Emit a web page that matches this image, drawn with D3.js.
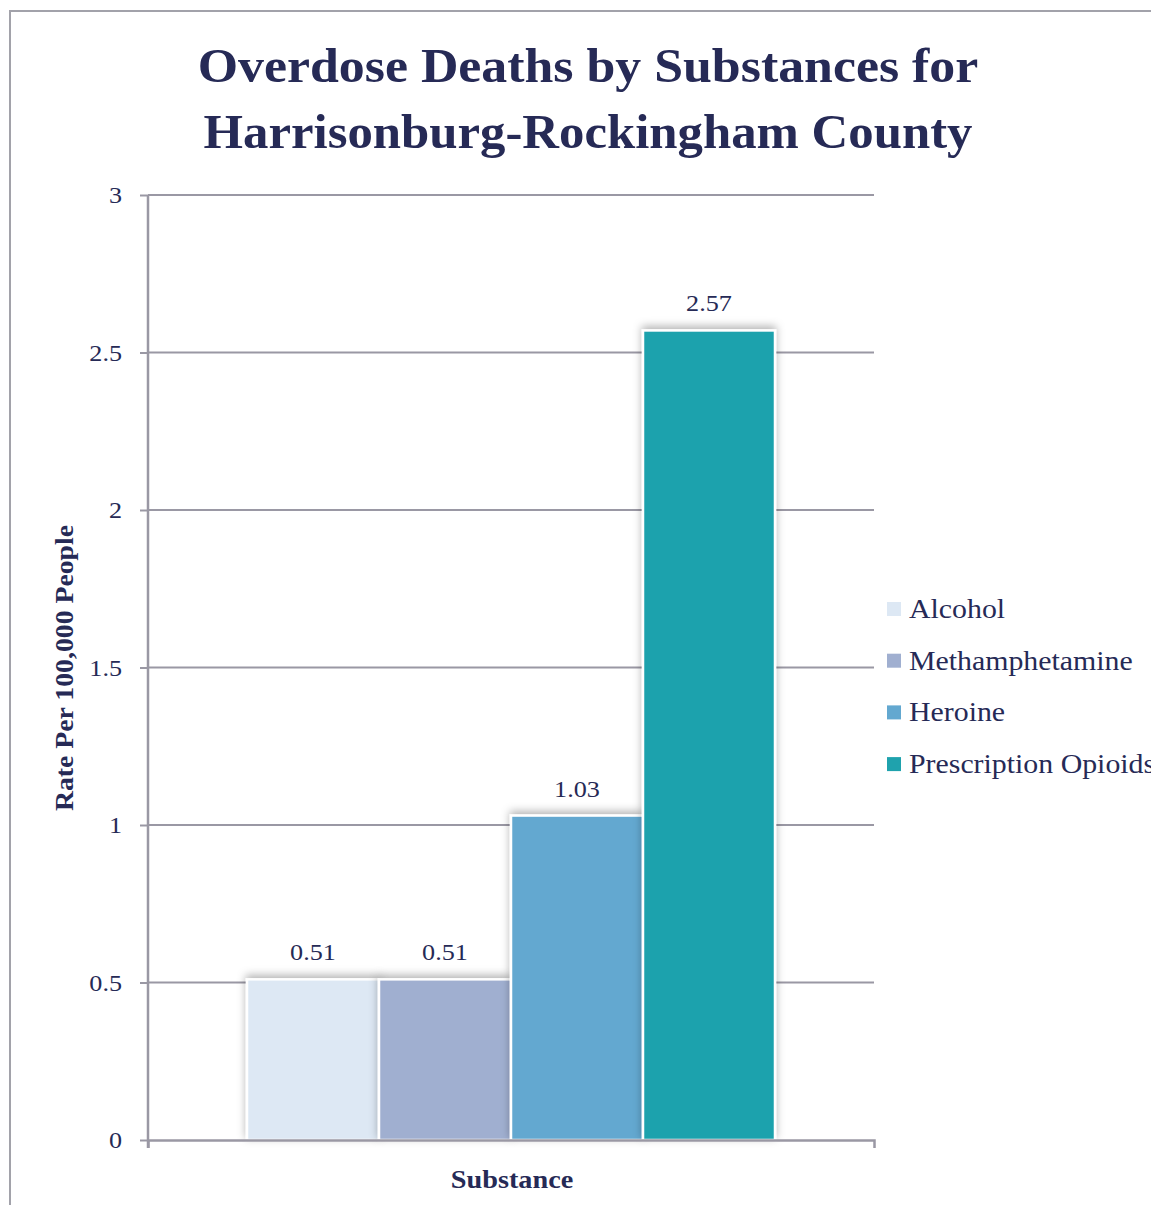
<!DOCTYPE html>
<html>
<head>
<meta charset="utf-8">
<script src="https://cdn.jsdelivr.net/npm/d3@7"></script>
<style>
  html, body { margin: 0; padding: 0; background: #fff; }
  svg { display: block; }
</style>
</head>
<body>
<svg id="chart" width="1151" height="1205"></svg>
<script>
const titleLines = ["Overdose Deaths by Substances for", "Harrisonburg-Rockingham County"];
const categories = ["Substance"];
const seriesNames = ["Alcohol", "Methamphetamine", "Heroine", "Prescription Opioids"];
const seriesValues = [0.51, 0.51, 1.03, 2.57];
const valueLabels = ["0.51", "0.51", "1.03", "2.57"];
const yTicks = [0, 0.5, 1, 1.5, 2, 2.5, 3];
const yTickLabels = ["0", "0.5", "1", "1.5", "2", "2.5", "3"];
const seriesColors = ["#dde8f4", "#a0afd0", "#63a8d0", "#1fa2ad"];
const yAxisTitle = "Rate Per 100,000 People";
const xAxisTitle = "Substance";

const FONT = "'Palatino Linotype', Palatino, 'Book Antiqua', 'Liberation Serif', serif";
const TEXT = "#262a56";
const GRID = "#9a98a4";

// widen a text selection horizontally (fallback font is narrower than the original)
function stretch(sel, k) {
  sel.each(function (d, i) {
    const kk = Array.isArray(k) ? k[i] : k;
    const len = this.getComputedTextLength();
    d3.select(this).attr("textLength", len * kk).attr("lengthAdjust", "spacingAndGlyphs");
  });
}

const svg = d3.select("#chart");
const defs = svg.append("defs");
const f = defs.append("filter").attr("id", "shadow")
  .attr("x", "-20%").attr("y", "-20%").attr("width", "140%").attr("height", "140%");
f.append("feDropShadow").attr("dx", 0).attr("dy", -3).attr("stdDeviation", 4)
  .attr("flood-color", "#000").attr("flood-opacity", 0.3);

// frame
svg.append("path")
  .attr("d", "M10,1205 L10,11 L1151,11")
  .attr("fill", "none").attr("stroke", "#a2a2aa").attr("stroke-width", 2);

const x0 = 148, x1 = 874, yTop = 195, yBot = 1140;
const y = d3.scaleLinear().domain([0, 3]).range([yBot, yTop]);
const xOuter = d3.scaleBand().domain(categories).range([x0, x1]).paddingInner(0).paddingOuter(0.1875);
const xInner = d3.scaleBand().domain(seriesNames).range([0, xOuter.bandwidth()]).padding(0);

// gridlines
svg.append("g").selectAll("line").data(yTicks.filter(d => d > 0)).join("line")
  .attr("x1", x0).attr("x2", x1)
  .attr("y1", d => y(d)).attr("y2", d => y(d))
  .attr("stroke", GRID).attr("stroke-width", 2);

// y axis
const yAxis = d3.axisLeft(y).tickValues(yTicks).tickFormat((d, i) => yTickLabels[i]).tickSize(8).tickPadding(18);
const gy = svg.append("g").attr("transform", `translate(${x0},0)`).call(yAxis);
gy.select(".domain").attr("stroke", GRID).attr("stroke-width", 2.5).attr("d", `M0,${yTop}V${yBot + 8}`);
gy.selectAll(".tick line").attr("stroke", GRID).attr("stroke-width", 2);
gy.selectAll(".tick text").attr("fill", TEXT).style("font-family", FONT).style("font-size", "24px")
  .call(stretch, 1.09);

// bars
const g = svg.append("g").attr("transform", `translate(${xOuter(categories[0])},0)`);
g.selectAll("rect").data(seriesValues).join("rect")
  .attr("x", (d, i) => xInner(seriesNames[i]))
  .attr("y", d => y(d))
  .attr("width", xInner.bandwidth())
  .attr("height", d => y(0) - y(d))
  .attr("fill", (d, i) => seriesColors[i])
  .attr("stroke", "#fff").attr("stroke-width", 2.5)
  .attr("filter", "url(#shadow)");

g.selectAll("text.val").data(seriesValues).join("text").attr("class", "val")
  .attr("x", (d, i) => xInner(seriesNames[i]) + xInner.bandwidth() / 2)
  .attr("y", d => y(d) - 19)
  .attr("text-anchor", "middle")
  .attr("fill", TEXT).style("font-family", FONT).style("font-size", "24px")
  .text((d, i) => valueLabels[i])
  .call(stretch, 1.09);

// x axis
const xAxis = d3.axisBottom(xOuter).tickValues([]).tickSizeOuter(8);
const gx = svg.append("g").attr("transform", `translate(0,${yBot})`).call(xAxis);
gx.select(".domain").attr("stroke", GRID).attr("stroke-width", 2.5);

// title
svg.append("g").selectAll("text").data(titleLines).join("text")
  .attr("x", 588).attr("y", (d, i) => 82 + i * 66)
  .attr("text-anchor", "middle")
  .attr("fill", TEXT).style("font-family", FONT).style("font-size", "48px").style("font-weight", "bold")
  .text(d => d)
  .call(stretch, [1.08, 1.058]);

// axis titles
svg.append("text")
  .attr("transform", `translate(73,668) rotate(-90)`)
  .attr("text-anchor", "middle")
  .attr("fill", TEXT).style("font-family", FONT).style("font-size", "25px").style("font-weight", "bold")
  .text(yAxisTitle)
  .call(stretch, 1.11);
svg.append("text")
  .attr("x", 512).attr("y", 1188)
  .attr("text-anchor", "middle")
  .attr("fill", TEXT).style("font-family", FONT).style("font-size", "25px").style("font-weight", "bold")
  .text(xAxisTitle)
  .call(stretch, 1.13);

// legend
const lg = svg.append("g").attr("transform", "translate(887,609)");
const items = lg.selectAll("g").data(seriesNames).join("g")
  .attr("transform", (d, i) => `translate(0,${i * 51.7})`);
items.append("rect").attr("x", 0).attr("y", -7).attr("width", 14).attr("height", 14)
  .attr("fill", (d, i) => seriesColors[i]);
items.append("text").attr("x", 22).attr("y", 9)
  .attr("fill", TEXT).style("font-family", FONT).style("font-size", "27px")
  .text(d => d)
  .call(stretch, 1.105);
</script>
</body>
</html>
